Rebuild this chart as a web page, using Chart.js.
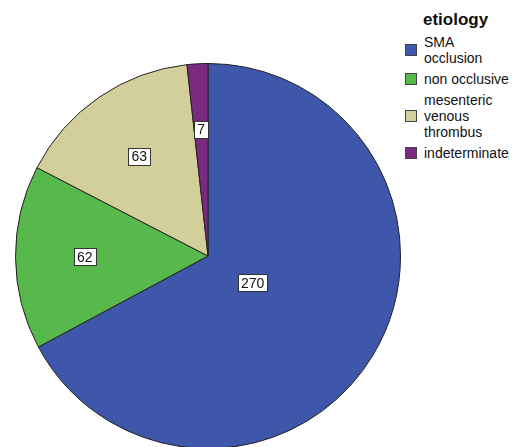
<!DOCTYPE html>
<html>
<head>
<meta charset="utf-8">
<script src="https://cdn.jsdelivr.net/npm/chart.js@4/dist/chart.umd.min.js"></script>
<style>
  html, body { margin: 0; padding: 0; background: #fff; overflow: hidden; }
  body { width: 519px; height: 447px; position: relative; font-family: "Liberation Sans", Arial, sans-serif; }
  #pieWrap { position: absolute; left: 15px; top: 63px; width: 386px; height: 386px; }
  #legend { position: absolute; left: 405px; top: 11px; color: #111; }
  #legend .title { font-weight: bold; font-size: 17px; line-height: 18px; margin-left: 18px; margin-bottom: 5px; }
  #legend .item { display: flex; align-items: center; font-size: 14px; line-height: 16px; margin-bottom: 5px; }
  #legend .box { width: 10px; height: 10px; border: 1px solid #444; margin-right: 7px; flex: none; }
</style>
</head>
<body>
<div id="pieWrap"><canvas id="pieChart" width="386" height="386"></canvas></div>
<div id="legend"></div>
<script>
const categories = ["SMA occlusion", "non occlusive", "mesenteric venous thrombus", "indeterminate"];
const legendLines = [["SMA", "occlusion"], ["non occlusive"], ["mesenteric", "venous", "thrombus"], ["indeterminate"]];
const counts = [270, 62, 63, 7];
const colors = ["#3e57ab", "#57b84b", "#d3cf9a", "#7a2b81"];

// how far out (fraction of radius) each value label sits
const labelRadius = [0.27, 0.64, 0.63, 0.66];

const valueBoxes = {
  id: "valueBoxes",
  afterDatasetsDraw(chart) {
    const ctx = chart.ctx;
    const meta = chart.getDatasetMeta(0);
    ctx.save();
    ctx.font = "14px 'Liberation Sans', Arial, sans-serif";
    ctx.textAlign = "center";
    ctx.textBaseline = "middle";
    meta.data.forEach((arc, i) => {
      const p = arc.getProps(["x", "y", "startAngle", "endAngle", "outerRadius"], true);
      const mid = (p.startAngle + p.endAngle) / 2;
      const r = p.outerRadius * labelRadius[i];
      const x = p.x + Math.cos(mid) * r;
      const y = p.y + Math.sin(mid) * r;
      const text = String(counts[i]);
      const w = Math.round(ctx.measureText(text).width + 6);
      const h = 17;
      const left = Math.round(x - w / 2) + 0.5;
      const top = Math.round(y - h / 2) + 0.5;
      ctx.fillStyle = "#fff";
      ctx.fillRect(left, top, w, h);
      ctx.strokeStyle = "#333";
      ctx.lineWidth = 1;
      ctx.strokeRect(left, top, w, h);
      ctx.fillStyle = "#111";
      ctx.fillText(text, x, y + 1);
    });
    ctx.restore();
  }
};

new Chart(document.getElementById("pieChart"), {
  type: "pie",
  data: {
    labels: categories,
    datasets: [{
      data: counts,
      backgroundColor: colors,
      borderColor: "#222",
      borderWidth: 1,
      hoverOffset: 0
    }]
  },
  options: {
    responsive: false,
    devicePixelRatio: 1,
    animation: false,
    layout: { padding: 0 },
    plugins: {
      legend: { display: false },
      tooltip: { enabled: false }
    }
  },
  plugins: [valueBoxes]
});

// legend built as html so the long names can wrap over several lines
const legend = document.getElementById("legend");
legend.innerHTML = '<div class="title">etiology</div>' + categories.map((c, i) =>
  `<div class="item"><span class="box" style="background:${colors[i]}"></span><span>${legendLines[i].join("<br>")}</span></div>`
).join("");
</script>
</body>
</html>
